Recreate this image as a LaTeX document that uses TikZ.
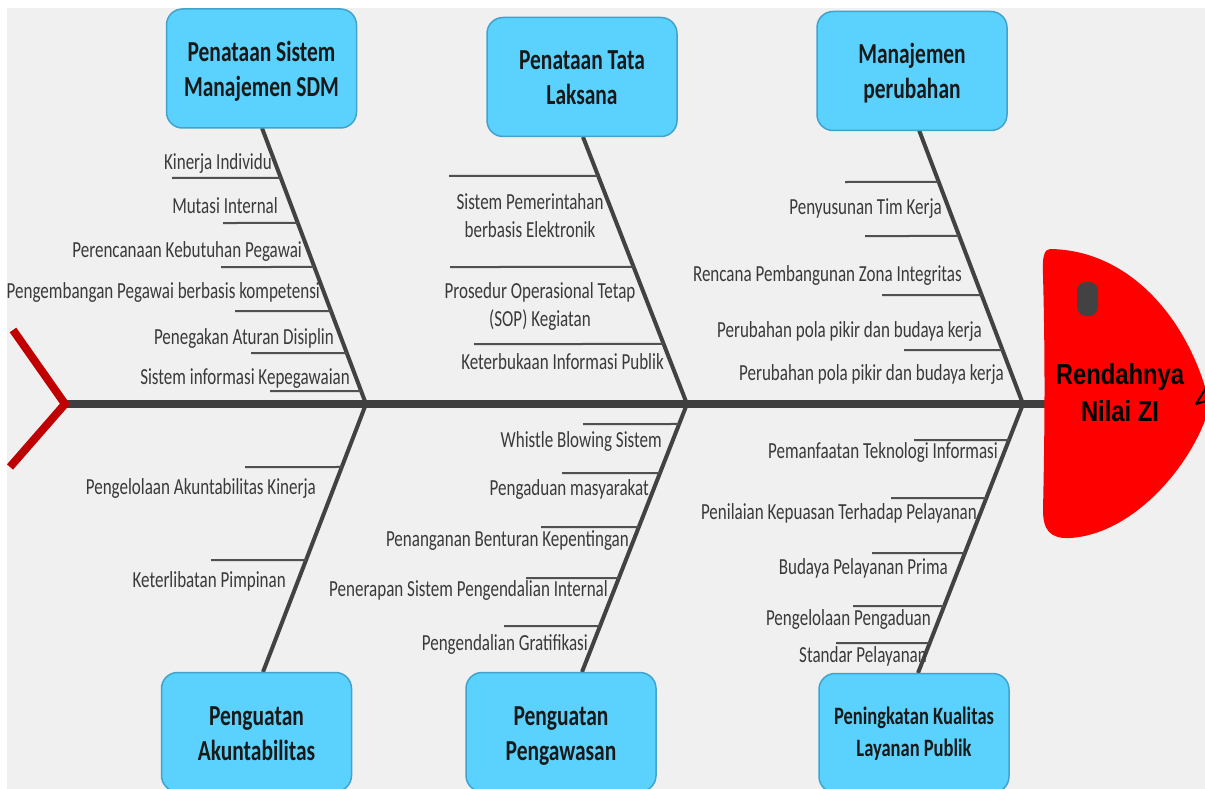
\documentclass[tikz,border=0pt]{standalone}
\usepackage{fontspec}
\setmainfont{Carlito}
\newfontfamily\lblfont[FakeStretch=0.74]{Carlito}
\newfontfamily\headfont[FakeStretch=0.82]{Liberation Sans}
\usetikzlibrary{calc}
\definecolor{canvas}{HTML}{F0F0F0}
\definecolor{bonegray}{HTML}{424242}
\definecolor{twiggray}{HTML}{505050}
\definecolor{labelgray}{HTML}{3A3A3A}
\definecolor{boxfill}{HTML}{5BD2FE}
\definecolor{boxline}{HTML}{41A3CC}
\definecolor{tailred}{HTML}{C00000}
\definecolor{headred}{HTML}{FF0000}
\tikzset{
  catbox/.style={draw=boxline, fill=boxfill, line width=1.5pt, rounded corners=16pt,
    minimum width=190pt, minimum height=119pt, inner sep=0pt, align=center,
    text height=62pt, text depth=6pt,
    text=black!90, font=\lblfont\bfseries\fontsize{29}{35}\selectfont},
  bone/.style={draw=bonegray, line width=4pt},
  twig/.style={draw=twiggray, line width=2pt},
  lbl/.style={anchor=base east, inner sep=0pt, text=labelgray,
    font=\lblfont\fontsize{23}{28}\selectfont},
  lblc/.style={anchor=base, inner sep=0pt, text=labelgray, align=center,
    font=\lblfont\fontsize{23}{28}\selectfont},
}
\begin{document}
\begin{tikzpicture}[x=1pt,y=-1pt]
\useasboundingbox (0,0) rectangle (1205,789);
\fill[white] (0,0) rectangle (1205,789);
\fill[canvas] (7,8) rectangle (1205,789);

% junctions on the spine and ends of the bones
\coordinate (tailj) at (65,404);
\coordinate (j1) at (366,404);
\coordinate (j2) at (687,404);
\coordinate (j3) at (1023,404);
\coordinate (b1top) at (262,128);
\coordinate (b2top) at (583,137);
\coordinate (b3top) at (919,130);
\coordinate (b4top) at (263,672);
\coordinate (b5top) at (582,672);
\coordinate (b6top) at (918,673);
\coordinate (spineend) at (1048,404);

% main bones
\draw[bone] (b1top) -- (j1);
\draw[bone] (b2top) -- (j2);
\draw[bone] (b3top) -- (j3);
\draw[bone] (j1) -- (b4top);
\draw[bone] (j2) -- (b5top);
\draw[bone] (j3) -- (b6top);

% small horizontal ribs ending on the bones
\foreach \xl/\yy in {172/178,223/223,221/267,235/311,251/353,270/391}
  \draw[twig] (\xl,\yy) -- ($(b1top)!{(\yy-128)/276}!(j1)$);
\foreach \xl/\yy in {449/176,450/267,474/344}
  \draw[twig] (\xl,\yy) -- ($(b2top)!{(\yy-137)/267}!(j2)$);
\foreach \xl/\yy in {845/182,865/236,882/295,904/350}
  \draw[twig] (\xl,\yy) -- ($(b3top)!{(\yy-130)/274}!(j3)$);
\foreach \xl/\yy in {245/467,211/560}
  \draw[twig] (\xl,\yy) -- ($(j1)!{(\yy-404)/268}!(b4top)$);
\foreach \xl/\yy in {583/424,562/473,541/527,526/578,504/626}
  \draw[twig] (\xl,\yy) -- ($(j2)!{(\yy-404)/268}!(b5top)$);
\foreach \xl/\yy in {914/440,891/498,872/553,853/606,836/643}
  \draw[twig] (\xl,\yy) -- ($(j3)!{(\yy-404)/269}!(b6top)$);

% spine
\draw[draw=bonegray!95!black, line width=8pt, line cap=round] (tailj) -- (spineend);

% tail
\draw[tailred, line width=8pt] (13,330) -- (tailj) -- (10,467);

% head
\fill[headred] (1050,249) .. controls (1130,250) and (1190,320) .. (1210,405)
  .. controls (1195,462) and (1135,534) .. (1070,538)
  .. controls (1050,539) and (1043,530) .. (1043,510)
  .. controls (1045,420) and (1045,350) .. (1043,275)
  .. controls (1042,258) and (1044,249) .. (1050,249) -- cycle;
\fill[bonegray, rounded corners=9pt] (1077,282) rectangle (1098,316);
\draw[black, line width=2pt, line join=round] (1206,388) -- (1196,404) -- (1206,401);
\node[align=center, inner sep=0pt, font=\headfont\bfseries\fontsize{29}{37}\selectfont] (head) at (1120,393) {Rendahnya\\Nilai ZI};

% category boxes
\node[catbox] (box1) at (261.5,68.5) {Penataan Sistem\\Manajemen SDM};
\node[catbox] (box2) at (582,77) {Penataan Tata\\Laksana};
\node[catbox] (box3) at (912,71) {Manajemen\\perubahan};
\node[catbox] (box4) at (256.5,732) {Penguatan\\Akuntabilitas};
\node[catbox] (box5) at (561,732) {Penguatan\\Pengawasan};
\node[catbox, text height=53pt, text depth=6pt,
  font=\lblfont\bfseries\fontsize{25}{32}\selectfont] (box6) at (914,733) {Peningkatan Kualitas\\Layanan Publik};

% causes: Penataan Sistem Manajemen SDM
\node[lbl] (c11) at (272,170) {Kinerja Individu};
\node[lbl] (c12) at (278,213) {Mutasi Internal};
\node[lbl] (c13) at (302,257) {Perencanaan Kebutuhan Pegawai};
\node[lbl] (c14) at (320,298) {Pengembangan Pegawai berbasis kompetensi};
\node[lbl] (c15) at (334,344) {Penegakan Aturan Disiplin};
\node[lbl] (c16) at (350,384) {Sistem informasi Kepegawaian};

% causes: Penataan Tata Laksana
\node[lblc] (c21) at (530,237) {Sistem Pemerintahan\\berbasis Elektronik};
\node[lblc] (c22) at (540,326) {Prosedur Operasional Tetap\\(SOP) Kegiatan};
\node[lbl] (c23) at (664,369) {Keterbukaan Informasi Publik};

% causes: Manajemen perubahan
\node[lbl] (c31) at (942,214) {Penyusunan Tim Kerja};
\node[lbl] (c32) at (962,281) {Rencana Pembangunan Zona Integritas};
\node[lbl] (c33) at (982,337) {Perubahan pola pikir dan budaya kerja};
\node[lbl] (c34) at (1004,380) {Perubahan pola pikir dan budaya kerja};

% causes: Penguatan Akuntabilitas
\node[lbl] (c41) at (316,494) {Pengelolaan Akuntabilitas Kinerja};
\node[lbl] (c42) at (286,587) {Keterlibatan Pimpinan};

% causes: Penguatan Pengawasan
\node[lbl] (c51) at (662,447) {Whistle Blowing Sistem};
\node[lbl] (c52) at (649,495) {Pengaduan masyarakat};
\node[lbl] (c53) at (629,546) {Penanganan Benturan Kepentingan};
\node[lbl] (c54) at (608,596) {Penerapan Sistem Pengendalian Internal};
\node[lbl] (c55) at (588,650) {Pengendalian Gratifikasi};

% causes: Peningkatan Kualitas Layanan Publik
\node[lbl] (c61) at (998,458) {Pemanfaatan Teknologi Informasi};
\node[lbl] (c62) at (977,519) {Penilaian Kepuasan Terhadap Pelayanan};
\node[lbl] (c63) at (948,574) {Budaya Pelayanan Prima};
\node[lbl] (c64) at (931,625) {Pengelolaan Pengaduan};
\node[lbl] (c65) at (927,662) {Standar Pelayanan};
\end{tikzpicture}
\end{document}
